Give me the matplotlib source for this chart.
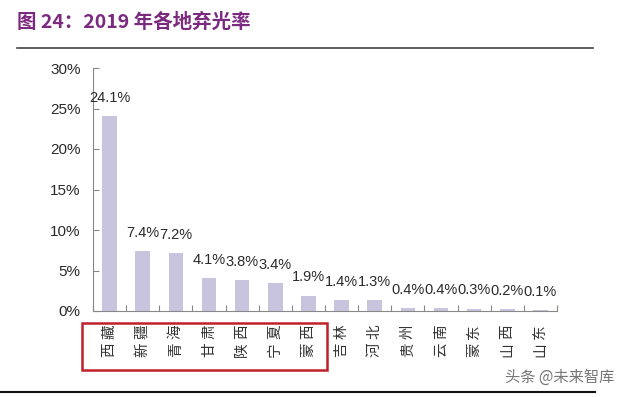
import matplotlib
matplotlib.use("Agg")
import matplotlib.pyplot as plt
from matplotlib.patches import Rectangle
from matplotlib.lines import Line2D

plt.rcParams['font.family'] = ['Noto Sans CJK SC', 'DejaVu Sans']

# data
regions = ["西藏", "新疆", "青海", "甘肃", "陕西", "宁夏", "蒙西",
           "吉林", "河北", "贵州", "云南", "蒙东", "山西", "山东"]
curtail_rate = [24.1, 7.4, 7.2, 4.1, 3.8, 3.4, 1.9,
                1.4, 1.3, 0.4, 0.4, 0.3, 0.2, 0.1]
yticks = [0, 5, 10, 15, 20, 25, 30]

NUM_FONT = ["Liberation Sans", "DejaVu Sans"]

fig = plt.figure(figsize=(6.31, 3.97), dpi=100)
ax = fig.add_axes([93 / 631, 1 - 311 / 397, 464 / 631, 243 / 397])

x = list(range(len(regions)))
ax.bar(x, curtail_rate, width=0.44, color="#c9c4dd")
for xi, v in zip(x, curtail_rate):
    ax.annotate(f"{v}%", xy=(xi, v), xytext=(0, 8), textcoords="offset points",
                ha="center", va="bottom", fontsize=10.5, family=NUM_FONT,
                color="#2a2a2a")

ax.set_xlim(-0.5, len(regions) - 0.5)
ax.set_ylim(0, 30)
ax.set_yticks(yticks)
ax.set_yticklabels([f"{t}%" for t in yticks], fontsize=11, family=NUM_FONT,
                   color="#2a2a2a")
ax.tick_params(axis="y", direction="in", length=4, color="#888888", pad=9)

# category boundary ticks on the x axis
ax.set_xticks([i - 0.5 for i in range(len(regions) + 1)])
ax.set_xticklabels([])
ax.tick_params(axis="x", direction="in", length=4, color="#888888")

# vertical labels, one rotated character at a time (first char at the bottom)
for xi, name in zip(x, regions):
    for k, ch in enumerate(name):
        ax.annotate(ch, xy=(xi, 0), xycoords=("data", "axes fraction"),
                    xytext=(0, -28.0 + 13.0 * k), textcoords="offset points",
                    rotation=90, ha="center", va="center",
                    fontsize=10.5, color="#333333")

for s in ["top", "right"]:
    ax.spines[s].set_visible(False)
for s in ["left", "bottom"]:
    ax.spines[s].set_color("#888888")

# title and rules
fig.text(17 / 631, 1 - 22 / 397, "图 24：2019 年各地弃光率", fontsize=14,
         fontweight="bold", color="#7b2a80", va="center", ha="left")
fig.add_artist(Line2D([17 / 631, 593 / 631], [1 - 48 / 397] * 2,
                      color="#444444", lw=1.2))
fig.add_artist(Line2D([0 / 631, 595 / 631], [1 - 392 / 397] * 2,
                      color="#111111", lw=1.5))

# red box round the first seven regions
fig.add_artist(Rectangle((82 / 631, 1 - 370 / 397), 245 / 631, 47 / 397,
                         fill=False, edgecolor="#c0202a", lw=1.8))

fig.text(505 / 631, 1 - 377 / 397, "头条 @未来智库", fontsize=11,
         color="#777777", va="center", ha="left")

fig.savefig("out.png", dpi=100)
